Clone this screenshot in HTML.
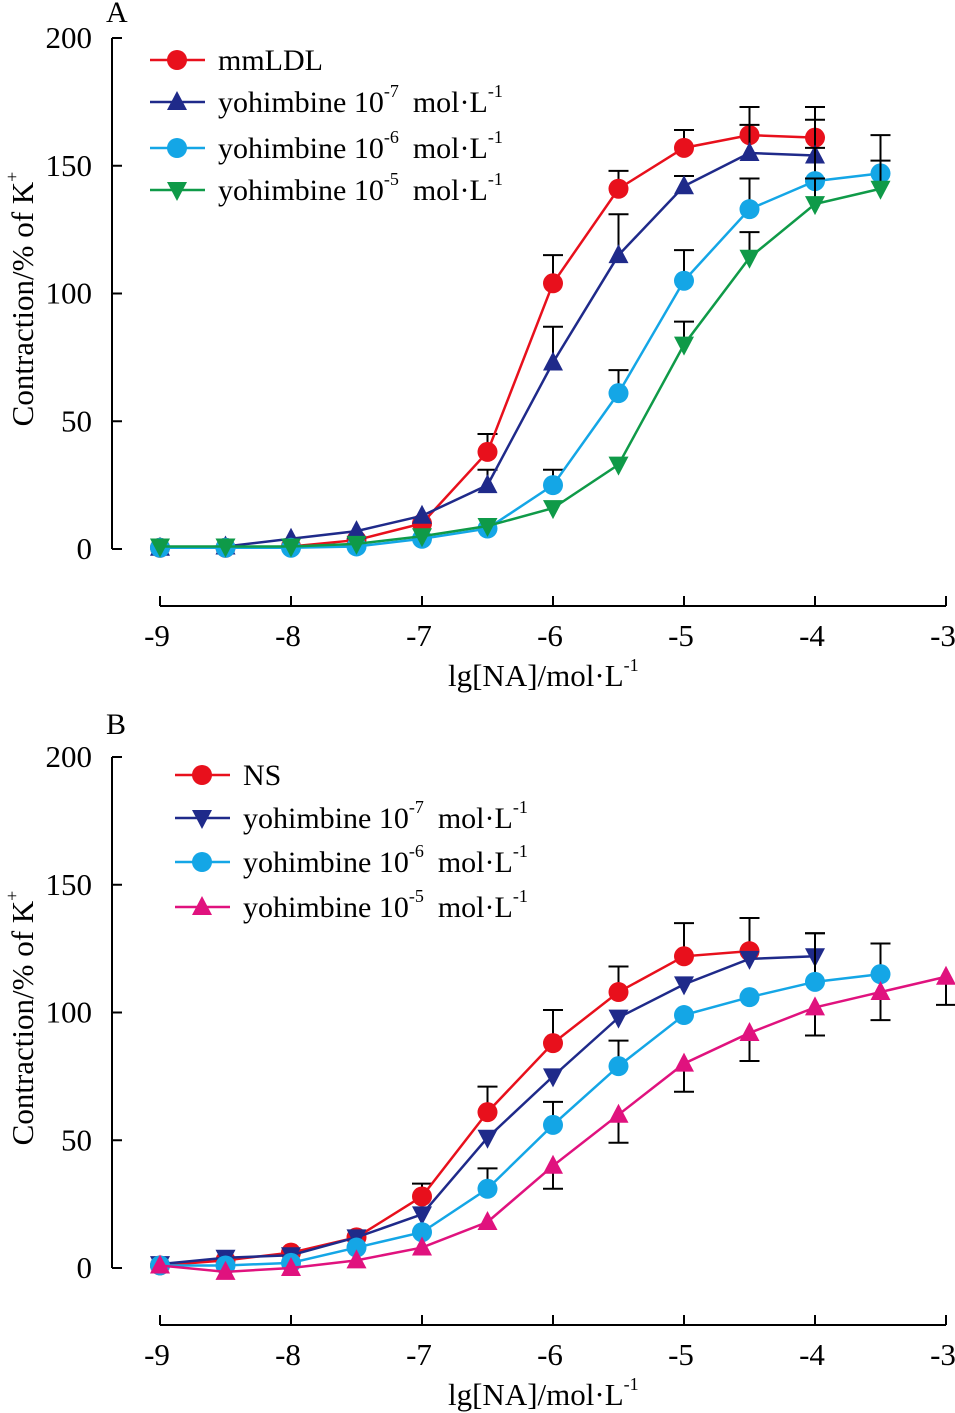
<!DOCTYPE html>
<html><head><meta charset="utf-8"><style>
body{margin:0;background:#fff}
svg{display:block;font-family:"Liberation Serif",serif}
</style></head><body>
<svg id="c" width="955" height="1413" viewBox="0 0 955 1413"></svg>
<script>
const xs=[-9,-8.5,-8,-7.5,-7,-6.5,-6,-5.5,-5,-4.5,-4,-3.5,-3];
const xTicks=[-9,-8,-7,-6,-5,-4,-3];
const yTicks=[0,50,100,150,200];
// Panel A
const aMm=[0.5,0.5,1,3.5,10,38,104,141,157,162,161];
const aMmErr=[0,0,0,0,0,45,115,148,164,173,173];
const aY7=[0.5,1,4,7,13,25,73,115,142,155,154];
const aY7Err=[0,0,0,0,0,31,87,131,146,166,168];
const aY6=[0.5,0.5,0.5,1,4,8,25,61,105,133,144,147];
const aY6Err=[0,0,0,0,0,0,31,70,117,145,157,162];
const aY5=[1,1,1,2,5,9,16,33,80,114,135,141];
const aY5Err=[0,0,0,0,0,0,0,0,89,124,145,152];
// Panel B
const bNs=[1,3,6,12,28,61,88,108,122,124];
const bNsErr=[0,0,0,0,33,71,101,118,135,137];
const bY7=[1.5,4,5,12,21,51,75,98,111,121,122];
const bY7Err=[0,0,0,0,0,0,0,0,0,0,131];
const bY6=[1,1,2,8,14,31,56,79,99,106,112,115];
const bY6Err=[0,0,0,0,0,39,65,89,0,0,131,127];
const bY5=[1,-1.5,0,3,8,18,40,60,80,92,102,108,114];
const bY5Err=[0,0,0,0,0,0,31,49,69,81,91,97,103];

const NS='http://www.w3.org/2000/svg';
const svg=document.getElementById('c');
function el(t,a,p){const e=document.createElementNS(NS,t);for(const k in a)e.setAttribute(k,a[k]);(p||svg).appendChild(e);return e;}
function panel(cfg){
  const g=el('g',{});
  
  
  const X=v=>160+(v+9)*131, Y=v=>cfg.y0-v*2.555;
  const ya=el('line',{x1:112,y1:Y(200),x2:112,y2:Y(0),stroke:'#000','stroke-width':2},g);
  
  yTicks.forEach(t=>{
    el('line',{x1:112,y1:Y(t),x2:122,y2:Y(t),stroke:'#000','stroke-width':2},g);
    const tx=el('text',{x:92,y:Y(t)+10,'font-size':31,'text-anchor':'end'},g);tx.textContent=t;
    
  });
  const xa=el('line',{x1:160,y1:cfg.y0+57,x2:946,y2:cfg.y0+57,stroke:'#000','stroke-width':2},g);
  
  xTicks.forEach(t=>{
    el('line',{x1:X(t),y1:cfg.y0+47,x2:X(t),y2:cfg.y0+57,stroke:'#000','stroke-width':2},g);
    const tx=el('text',{x:X(t)-3,y:cfg.y0+97,'font-size':31,'text-anchor':'middle'},g);tx.textContent=t;
    
  });
  const xt=el('text',{x:448,y:cfg.y0+137,'font-size':31},g);
  xt.innerHTML='lg[NA]/mol·L<tspan dy="-15" font-size="18">-1</tspan>';
  
  const yt=el('text',{transform:`translate(33,${cfg.y0-250}) rotate(-90)`,'font-size':31,'text-anchor':'middle'},g);
  yt.innerHTML='Contraction/% of K<tspan dy="-15" font-size="18">+</tspan>';
  
  const pl=el('text',{x:106,y:cfg.labY,'font-size':30},g);pl.textContent=cfg.label;
  
  function marker(m,x,y,c,p){
    if(m==='o')return el('circle',{cx:x,cy:y,r:10,fill:c},p);
    if(m==='^')return el('polygon',{points:`${x},${y-11} ${x-10},${y+8} ${x+10},${y+8}`,fill:c},p);
    return el('polygon',{points:`${x},${y+11} ${x-10},${y-8} ${x+10},${y-8}`,fill:c},p);
  }
  cfg.series.forEach((s,si)=>{
    const sg=el('g',{},g);
    
    s.err.forEach((e,i)=>{if(!e)return;const x=X(xs[i]);
      el('line',{x1:x,y1:Y(s.v[i]),x2:x,y2:Y(e),stroke:'#000','stroke-width':2},sg);
      el('line',{x1:x-10,y1:Y(e),x2:x+10,y2:Y(e),stroke:'#000','stroke-width':2},sg);});
    el('polyline',{points:s.v.map((v,i)=>X(xs[i])+','+Y(v)).join(' '),fill:'none',stroke:s.c,'stroke-width':2.5},sg);
    s.v.forEach((v,i)=>{const m=marker(s.m,X(xs[i]),Y(v),s.c,sg);
      });
    const ly=cfg.legY[si], lg=el('g',{},g);
    
    el('line',{x1:cfg.legX,y1:ly,x2:cfg.legX+55,y2:ly,stroke:s.c,'stroke-width':2.5},lg);
    marker(s.m,cfg.legX+27,ly,s.c,lg);
    const t=el('text',{x:cfg.legX+68,y:ly+10,'font-size':30},lg);
    t.innerHTML=s.lab;
  });
}
const yl=e=>`yohimbine 10<tspan dy="-15" font-size="18">${e}</tspan><tspan dy="15" dx="14">mol·L</tspan><tspan dy="-15" font-size="18">-1</tspan>`;
panel({name:'panel-a',label:'A',labY:22,y0:549,legX:150,legY:[60,102,148,190],series:[
 {key:'mmldl',v:aMm,err:aMmErr,c:'#e8101c',m:'o',lab:'mmLDL'},
 {key:'yoh7',v:aY7,err:aY7Err,c:'#1f2a8a',m:'^',lab:yl('-7')},
 {key:'yoh6',v:aY6,err:aY6Err,c:'#14a6e6',m:'o',lab:yl('-6')},
 {key:'yoh5',v:aY5,err:aY5Err,c:'#0f9a48',m:'v',lab:yl('-5')}]});
panel({name:'panel-b',label:'B',labY:734,y0:1268,legX:175,legY:[775,818,862,907],series:[
 {key:'ns',v:bNs,err:bNsErr,c:'#e8101c',m:'o',lab:'NS'},
 {key:'yoh7',v:bY7,err:bY7Err,c:'#1f2a8a',m:'v',lab:yl('-7')},
 {key:'yoh6',v:bY6,err:bY6Err,c:'#14a6e6',m:'o',lab:yl('-6')},
 {key:'yoh5',v:bY5,err:bY5Err,c:'#e0127e',m:'^',lab:yl('-5')}]});
</script>
</body></html>
